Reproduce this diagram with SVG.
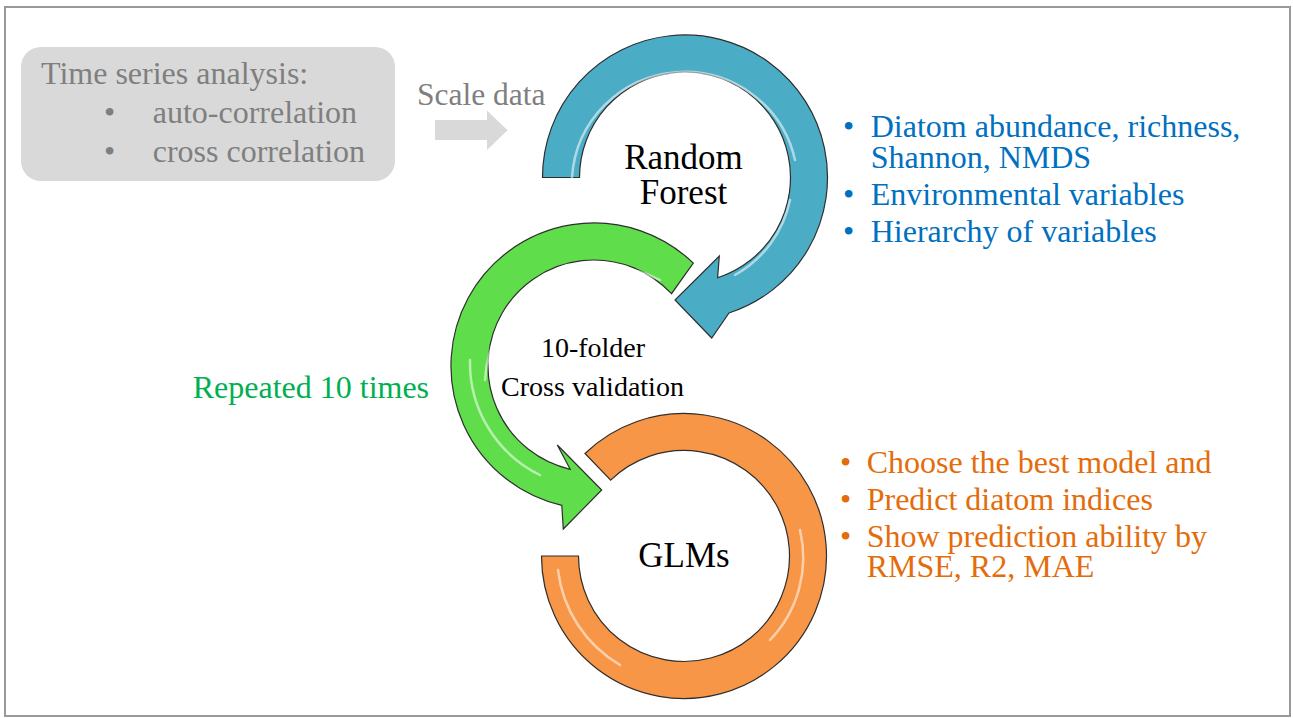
<svg xmlns="http://www.w3.org/2000/svg" width="1293" height="718" viewBox="0 0 1293 718" font-family="'Liberation Serif', 'Times New Roman', serif">
<style>
  text { font-family: 'Liberation Serif', 'Times New Roman', serif; }
  .gray { fill: #7f7f7f; font-size: 32px; }
  .scale { fill: #7f7f7f; font-size: 31.5px; }
  .title { fill: #000; font-size: 35px; text-anchor: middle; }
  .small { fill: #000; font-size: 28px; text-anchor: middle; }
  .blue { fill: #0070C0; font-size: 32px; }
  .orange { fill: #E46C0A; font-size: 32px; }
  .green { fill: #00B050; font-size: 32px; }
  .arc { stroke: #2e2e2e; stroke-width: 1.2; stroke-linejoin: miter; }
  .hl { fill: none; stroke: #ffffff; stroke-width: 2.5; stroke-linecap: round; opacity: 0.55; }
</style>
<rect x="0" y="0" width="1293" height="718" fill="#ffffff"/>
<rect x="5" y="7" width="1285" height="709" fill="#ffffff" stroke="#999999" stroke-width="2"/>

<g id="time-series">
  <rect x="21" y="47" width="374" height="134" rx="20" ry="20" fill="#d9d9d9"/>
  <text class="gray" x="41" y="84">Time series analysis:</text>
  <text class="gray" x="104" y="123">•</text>
  <text class="gray" x="152.7" y="123">auto-correlation</text>
  <text class="gray" x="104" y="162">•</text>
  <text class="gray" x="152.7" y="162">cross correlation</text>
</g>

<g id="connectors">
  <text class="scale" x="417" y="105">Scale data</text>
  <polygon points="435,120 487,120 487,110.5 507.5,130.3 487,150 487,140 435,140" fill="#d9d9d9"/>
</g>

<g id="random-forest">
  <path class="arc" fill="#4BACC6" d="M 542.5 177.5 A 142.5 142.5 0 1 1 729 313 L 711.7 338 L 675 300 L 719.3 256 L 717.6 277.8 A 105.5 105.5 0 1 0 579.5 177.5 Z"/>
  <path class="hl" d="M 572 177.5 A 113 113 0 0 1 795 160"/>
  <path class="hl" d="M 790 200 A 112 112 0 0 1 735 275"/>
  <text class="title" x="683.5" y="169">Random</text>
  <text class="title" x="683.5" y="204">Forest</text>
</g>

<g id="random-forest-outputs">
  <text class="blue" x="843" y="137">•</text>
  <text class="blue" x="870.7" y="137">Diatom abundance, richness,</text>
  <text class="blue" x="870.7" y="168.3">Shannon, NMDS</text>
  <text class="blue" x="843" y="205">•</text>
  <text class="blue" x="870.7" y="205">Environmental variables</text>
  <text class="blue" x="843" y="241.7">•</text>
  <text class="blue" x="870.7" y="241.7">Hierarchy of variables</text>
</g>

<g id="cross-validation">
  <path class="arc" fill="#5FDD4B" d="M 693.3 263.1 A 143 143 0 1 0 561.8 505.3 L 563.3 529 L 601.7 490 L 557.3 445 L 570.2 469.3 A 106 106 0 1 1 671.5 293.7 Z"/>
  <path class="hl" d="M 660 280 A 120 120 0 0 0 485 380"/>
  <path class="hl" d="M 470 360 A 125 125 0 0 0 540 475"/>
  <text class="small" x="593" y="357">10-folder</text>
  <text class="small" x="592.5" y="396">Cross validation</text>
  <text class="green" x="192.7" y="397.7">Repeated 10 times</text>
</g>

<g id="glms">
  <path class="arc" fill="#F79646" d="M 541.5 556 A 142.5 142.5 0 1 0 585 453.5 L 610.7 480.1 A 105.5 105.5 0 1 1 578.5 556 Z"/>
  <path class="hl" d="M 558 570 A 127 127 0 0 0 620 665"/>
  <path class="hl" d="M 800 530 A 119 119 0 0 1 770 640"/>
  <text class="title" x="684" y="566.7">GLMs</text>
</g>

<g id="glms-outputs">
  <text class="orange" x="840" y="473.3">•</text>
  <text class="orange" x="866.7" y="473.3">Choose the best model and</text>
  <text class="orange" x="840" y="510">•</text>
  <text class="orange" x="866.7" y="510">Predict diatom indices</text>
  <text class="orange" x="840" y="546.7">•</text>
  <text class="orange" x="866.7" y="546.7">Show prediction ability by</text>
  <text class="orange" x="866.7" y="577">RMSE, R2, MAE</text>
</g>
</svg>
